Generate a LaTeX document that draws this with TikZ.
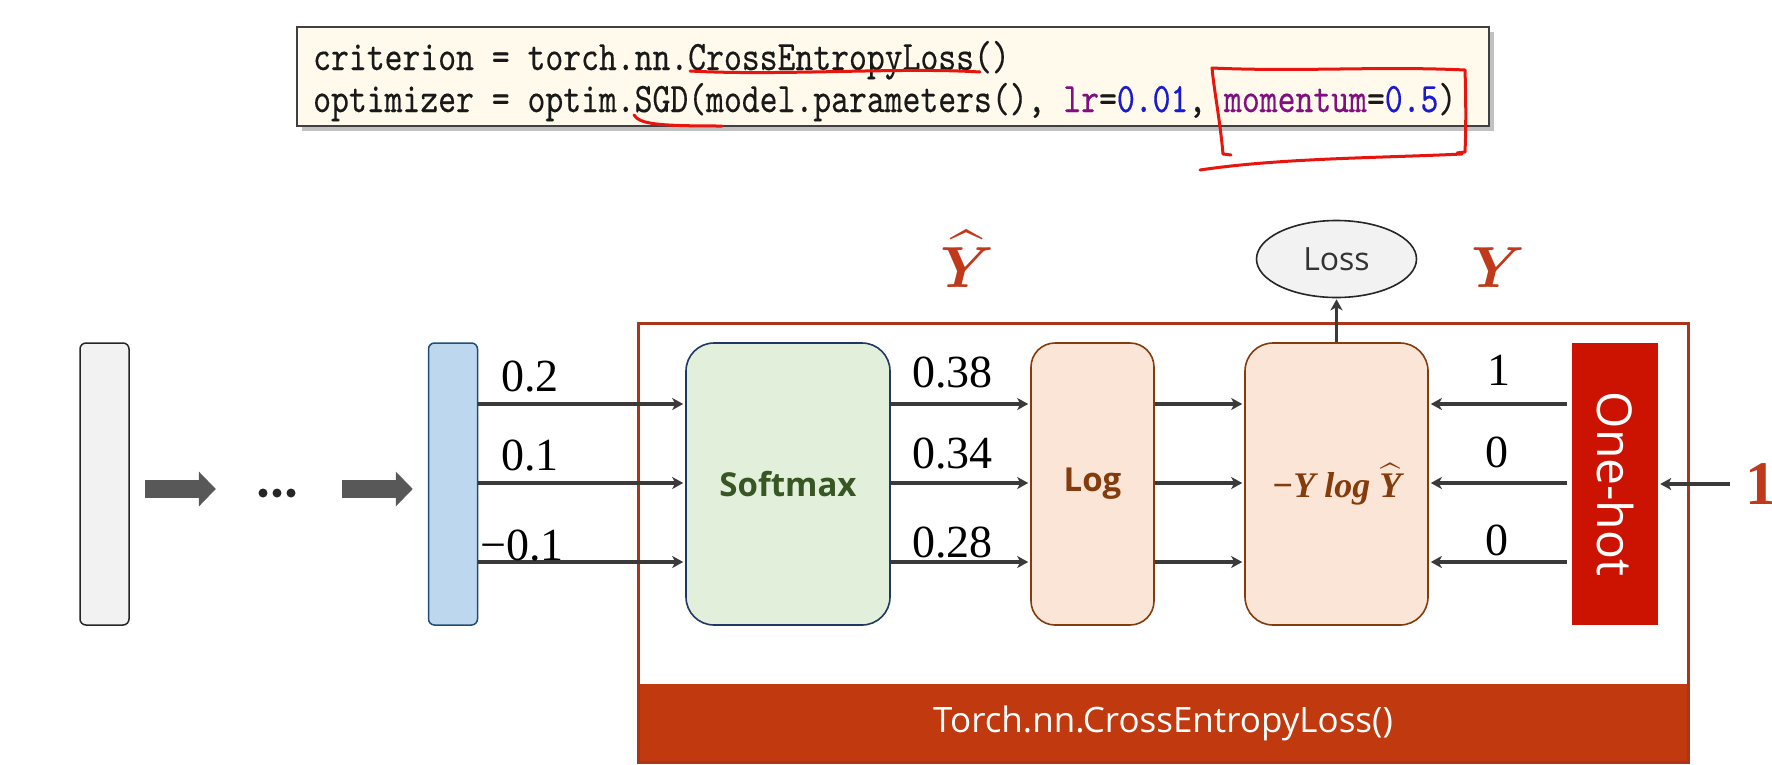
\documentclass[tikz,border=0pt]{standalone}
\usepackage{fix-cm}
\usepackage{amsmath, amsfonts, amssymb}
\usepackage{xcolor}
\usepackage{fontspec}
\setmainfont{Liberation Serif}
\newfontfamily\codefont{lmmono10-regular.otf}[FakeStretch=0.81, FakeBold=0.3]
\newfontfamily\uifont{Open Sans}
\usepackage{tikz}
\usetikzlibrary{arrows.meta, shadows, shapes.geometric}

\definecolor{codebg}{HTML}{FFFAEC}
\definecolor{codepurple}{HTML}{80107F}
\definecolor{codeblue}{HTML}{1A1ACF}
\definecolor{penred}{HTML}{E8140E}
\definecolor{linkgray}{HTML}{3A3A3A}
\definecolor{blockgray}{HTML}{585858}
\definecolor{barblue}{HTML}{BDD7EE}
\definecolor{barblueline}{HTML}{1F4E79}
\definecolor{softfill}{HTML}{E2EFDA}
\definecolor{softline}{HTML}{203864}
\definecolor{softtext}{HTML}{375623}
\definecolor{peach}{HTML}{FBE5D6}
\definecolor{lossbrown}{HTML}{843C0C}
\definecolor{frameline}{HTML}{A9361A}
\definecolor{bandred}{HTML}{C0390F}
\definecolor{hotred}{HTML}{CC1200}
\definecolor{labelred}{HTML}{C0391B}

\tikzset{
  codebox/.style={draw=black!75, line width=2pt, fill=codebg, minimum width=1192pt, minimum height=99pt,
    drop shadow={shadow xshift=5pt, shadow yshift=-5pt, fill=black!40, opacity=0.6}},
  codeline/.style={font=\codefont\fontsize{42}{46}\selectfont\frenchspacing, text=black!90, inner sep=0pt, anchor=base west},
  bar/.style={rounded corners=6pt, line width=1.5pt, minimum width=49pt, minimum height=282pt},
  block/.style={rounded corners=28pt, line width=1.6pt, minimum height=282pt, font=\uifont\bfseries\fontsize{33}{36}\selectfont},
  dotsbox/.style={minimum width=40pt, minimum height=12pt, inner sep=0pt},
  conn/.style={draw=linkgray, line width=3.5pt, -{Stealth[length=11pt,width=12pt,inset=3pt]}},
  bigarrow/.style={draw=blockgray, line width=18pt, -{Triangle[length=17pt,width=34pt]}},
  num/.style={font=\fontsize{46}{50}\selectfont, inner sep=0pt, anchor=base west},
  penstroke/.style={draw=penred, line width=3pt, line cap=round, line join=round}
}

\begin{document}
\begin{tikzpicture}[x=1pt, y=-1pt]

\fill[white] (0,0) rectangle (1772,764);
\useasboundingbox (0,0) rectangle (1772,764);

\node[codebox] (code) at (893,76.5) {};
\node[codeline] (crit) at (313,70) {criterion = torch.nn.CrossEntropyLoss()};
\node[codeline] (optim) at (313,112) {optimizer = optim.SGD(model.parameters(), \textcolor{codepurple}{lr}=\textcolor{codeblue}{0.01}, \textcolor{codepurple}{momentum}=\textcolor{codeblue}{0.5})};

\node[fill=bandred, minimum width=1050pt, minimum height=78pt, inner sep=0pt, text=white,
  font=\uifont\fontsize{35}{40}\selectfont] (band) at (1163,723) {Torch.nn.CrossEntropyLoss()};
\node[draw=frameline, line width=3pt, minimum width=1050pt, minimum height=439pt, inner sep=0pt] (frame) at (1163,542.5) {};

\node[bar, fill=black!5, draw=black!85] (in) at (104.5,484) {};
\node[dotsbox] (dots) at (277,489) {};
\foreach \x in {-14,0,14}{
	\fill[black!85] ([xshift=\x pt, yshift=-4pt]dots.center) circle (4.5pt);
}
\node[bar, fill=barblue, draw=barblueline] (hid) at (453,484) {};
\draw[bigarrow, shorten <=15pt, shorten >=41pt] (in.east |- dots.west) -- (dots.west);
\draw[bigarrow, shorten <=45pt, shorten >=15pt] (dots.east) -- (hid.west |- dots.east);

\node[block, fill=softfill, draw=softline, text=softtext, minimum width=204pt] (soft) at (788,484) {Softmax};
\node[block, fill=peach, draw=lossbrown, text=lossbrown, minimum width=123pt, rounded corners=24pt] (log) at (1092.5,484) {Log};
\node[block, fill=peach, draw=lossbrown, text=lossbrown, minimum width=183pt,
  font=\bfseries\itshape\fontsize{36}{40}\selectfont] (form) at (1336.5,484) {−Y log $\widehat{\mbox{Y}}$};
\node[fill=hotred, minimum width=86pt, minimum height=282pt, inner sep=0pt] (onehot) at (1615,484) {};
\node[rotate=-90, text=white, font=\uifont\fontsize{48}{52}\selectfont] (onehottext) at (onehot) {One-hot};

\node[ellipse, draw=black!85, fill=black!5, line width=1.6pt, minimum width=160pt, minimum height=77pt,
  text=black!80, font=\uifont\fontsize{32}{36}\selectfont] (loss) at (1336.5,259) {Loss};

\node[text=labelred, font=\fontsize{58}{60}\selectfont] (yhat) at (967,259) {$\boldsymbol{\widehat{Y}}$};
\node[text=labelred, font=\fontsize{58}{60}\selectfont] (ytrue) at (1498,268) {$\boldsymbol{Y}$};
\node[text=labelred, font=\fontsize{62}{64}\selectfont\bfseries, anchor=west, inner sep=0pt] (cls) at (1745,484) {1};

\foreach \y in {404,483,562}{
	\draw[conn, shorten >=2pt] (hid.east |- 0,\y) -- (soft.west |- 0,\y);
	\draw[conn, shorten >=2pt] (soft.east |- 0,\y) -- (log.west |- 0,\y);
	\draw[conn, shorten >=2pt] (log.east |- 0,\y) -- (form.west |- 0,\y);
	\draw[conn, shorten <=5pt, shorten >=2pt] (onehot.west |- 0,\y) -- (form.east |- 0,\y);
}
\draw[conn, shorten >=1pt] (form.north) -- (loss.south);
\draw[conn, shorten <=15pt, shorten >=2pt] (cls.west) -- (onehot.east);

\node[num] (h1) at (501,391) {0.2};
\node[num] (h2) at (501,470) {0.1};
\node[num] (h3) at (480,560) {−0.1};
\node[num] (p1) at (912,387) {0.38};
\node[num] (p2) at (912,468) {0.34};
\node[num] (p3) at (912,557) {0.28};
\node[num] (t1) at (1487,385) {1};
\node[num] (t2) at (1485,467) {0};
\node[num] (t3) at (1485,555) {0};

\draw[penstroke] (690,71) .. controls (780,76) and (900,67) .. (980,72);
\draw[penstroke] (634,115) .. controls (640,124) and (656,126) .. (722,126);
\draw[penstroke] (1231,155) -- (1223,154) .. controls (1220,120) and (1214,90) .. (1212,68)
  .. controls (1300,72) and (1380,66) .. (1465,70) .. controls (1466,100) and (1466,130) .. (1465,152) -- (1457,153);
\draw[penstroke] (1200,170) .. controls (1280,158) and (1380,158) .. (1462,154);

\end{tikzpicture}
\end{document}
